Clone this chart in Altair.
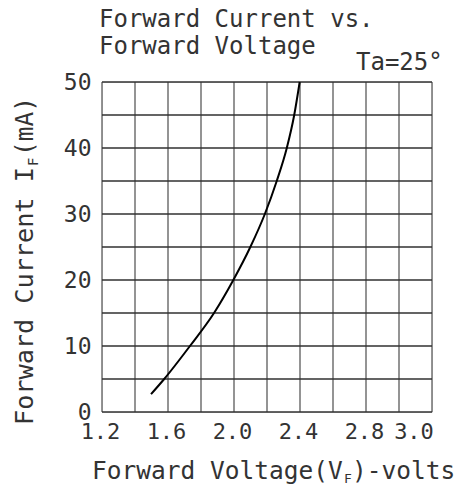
import altair as alt
import pandas as pd

# ---- data ----
voltage = [1.497, 1.577, 1.733, 1.879, 1.996, 2.099, 2.187, 2.259, 2.320, 2.365, 2.398]
current = [2.7, 5.0, 10.0, 15.0, 20.0, 25.0, 30.0, 35.0, 40.0, 45.0, 50.0]

x_grid = [1.2, 1.4, 1.6, 1.8, 2.0, 2.2, 2.4, 2.6, 2.8, 3.0, 3.2]
y_grid = [0, 5, 10, 15, 20, 25, 30, 35, 40, 45, 50]
x_tick_values = [1.2, 1.6, 2.0, 2.4, 2.8, 3.1]
x_tick_labels = ["1.2", "1.6", "2.0", "2.4", "2.8", "3.0"]
y_tick_values = [0, 10, 20, 30, 40, 50]

MONO = "DejaVu Sans Mono"
TXT = "#333333"

curve = pd.DataFrame({"V": voltage, "I": current})
vgrid = pd.DataFrame({"V": x_grid})
hgrid = pd.DataFrame({"I": y_grid})

label_expr = "''"
for v, l in zip(reversed(x_tick_values), reversed(x_tick_labels)):
    label_expr = f"(abs(datum.value - {v}) < 0.001 ? '{l}' : {label_expr})"

xscale = alt.Scale(domain=[1.2, 3.2], nice=False, zero=False)
yscale = alt.Scale(domain=[0, 50], nice=False)
xaxis = alt.Axis(values=x_tick_values, labelExpr=label_expr, title=None, grid=False,
                 ticks=False, domain=False, labelFont=MONO, labelFontSize=22,
                 labelColor=TXT, labelPadding=9, labelOffset=-2, labelFlush=False)
yaxis = alt.Axis(values=y_tick_values, title=None, grid=False, ticks=False,
                 domain=False, labelFont=MONO, labelFontSize=23, labelColor=TXT,
                 labelPadding=11, labelBaseline="middle", labelFlush=False)

vlines = alt.Chart(vgrid).mark_rule(color="#707070", strokeWidth=1.5).encode(
    x=alt.X("V:Q", scale=xscale, axis=xaxis)
)
hlines = alt.Chart(hgrid).mark_rule(color="#303030", strokeWidth=1.5).encode(
    y=alt.Y("I:Q", scale=yscale, axis=yaxis)
)
line = alt.Chart(curve).mark_line(color="black", strokeWidth=2, interpolate="monotone").encode(
    x=alt.X("V:Q", scale=xscale, axis=xaxis),
    y=alt.Y("I:Q", scale=yscale, axis=yaxis),
)

one = alt.Data(values=[{"a": 1}])


def txt(s, x, y, size=24.5, angle=0, align="left"):
    return alt.Chart(one).mark_text(
        font=MONO, fontSize=size, color=TXT, align=align, baseline="alphabetic",
        angle=angle
    ).encode(x=alt.value(x), y=alt.value(y), text=alt.value(s))


texts = [
    txt("Forward Current vs.", -3, -55, size=24),
    txt("Forward Voltage", -3, -28, size=24),
    txt("Ta=25°", 254, -12, size=24),
    # x title with subscript
    txt("Forward Voltage(V", -10, 397),
    txt("F", 242, 401, size=13),
    txt(")-volts", 250, 397),
    # y title with subscript (rotated)
    txt("Forward Current I", -69, 343, size=25.2, angle=270),
    txt("F", -64, 84, size=14, angle=270),
    txt("(mA)", -69, 74, size=24.5, angle=270),
]

chart = alt.layer(vlines, hlines, line, *texts).properties(
    width=330, height=330,
    padding={"left": 94, "top": 74, "right": 31, "bottom": 78},
    autosize=alt.AutoSizeParams(type="none"),
).configure_view(stroke="#303030", strokeWidth=1.5).configure(background="white")

chart.save("out.html", embed_options={"renderer": "svg", "actions": False})
